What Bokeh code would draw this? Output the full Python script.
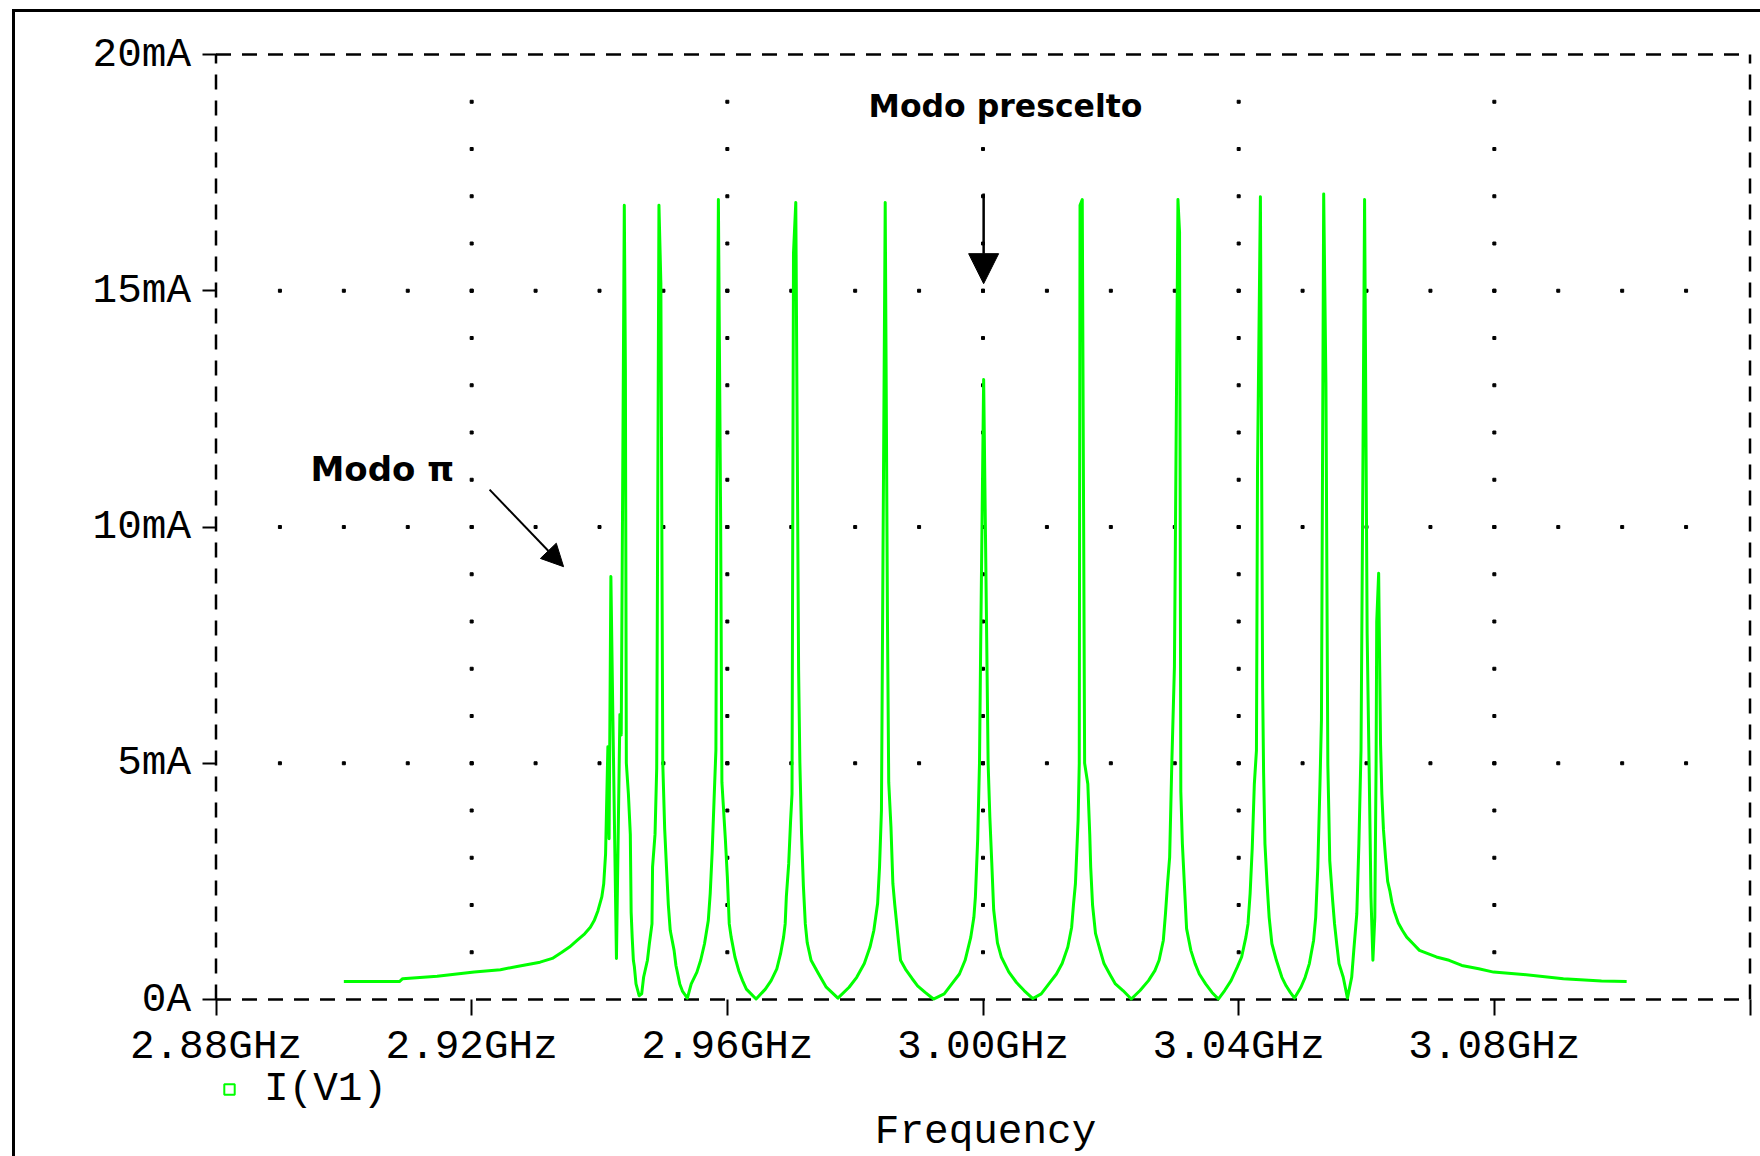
from bokeh.plotting import figure
from bokeh.models import (FixedTicker, Legend, LegendItem, Label, Arrow,
                          NormalHead, Range1d)
from bokeh.embed import file_html
from bokeh.resources import INLINE
from bokeh.core.properties import value

# ---------------- data ----------------
series_name = "I(V1)"

# frequency in GHz
freq_ghz = [
    # left tail
    2.90000, 2.90870, 2.90920, 2.91460, 2.92040, 2.92450, 2.92710, 2.93070,
    2.93262, 2.93411, 2.93530, 2.93649, 2.93768, 2.93857, 2.93917, 2.93976,
    2.94036, 2.94066, 2.94095,
    # pi-mode cluster
    2.94131, 2.94150, 2.94178, 2.94210, 2.94265, 2.94319, 2.94340,
    # peak 2 and valley
    2.94388, 2.94405, 2.94420, 2.94452, 2.94482, 2.94495, 2.94512, 2.94530,
    2.94545, 2.94571, 2.94620, 2.94660, 2.94690, 2.94750, 2.94780, 2.94821,
    2.94830, 2.94869, 2.94895,
    # peak 3 and valley
    2.94930, 2.94960, 2.94990, 2.95020, 2.95048, 2.95077, 2.95107, 2.95167,
    2.95196, 2.95256, 2.95300, 2.95375, 2.95435, 2.95524, 2.95583, 2.95643,
    2.95702, 2.95732, 2.95762, 2.95792, 2.95821,
    # peak 4 and valley
    2.95835, 2.95860, 2.95895, 2.95915, 2.95970, 2.96000, 2.96030, 2.96060,
    2.96119, 2.96179, 2.96238, 2.96298, 2.96450, 2.96595, 2.96685, 2.96774,
    2.96833, 2.96880, 2.96905, 2.96923, 2.96960, 2.96990, 2.97012,
    # peak 5 and valley
    2.97035, 2.97071, 2.97115, 2.97135, 2.97161, 2.97190, 2.97220, 2.97250,
    2.97310, 2.97429, 2.97548, 2.97730, 2.97905, 2.98024, 2.98143, 2.98232,
    2.98292, 2.98351, 2.98381, 2.98411,
    # peak 6 and valley
    2.98435, 2.98470, 2.98505, 2.98525, 2.98560, 2.98590, 2.98620, 2.98650,
    2.98680, 2.98710, 2.98797, 2.98887, 2.98976, 2.99095, 2.99225, 2.99393,
    2.99512, 2.99631, 2.99720, 2.99809, 2.99857, 2.99881, 2.99917, 2.99945,
    # peak 7 (chosen mode) and valley
    2.99965, 3.00010, 3.00058, 3.00080, 3.00107, 3.00137, 3.00167, 3.00226,
    3.00286, 3.00405, 3.00524, 3.00643, 3.00780, 3.00911, 3.01030, 3.01149,
    3.01238, 3.01327, 3.01387, 3.01417, 3.01446, 3.01488, 3.01506,
    # peak 8 and valley
    3.01518, 3.01553, 3.01590, 3.01640, 3.01670, 3.01685, 3.01714, 3.01760,
    3.01833, 3.01893, 3.01982, 3.02071, 3.02190, 3.02320, 3.02457, 3.02589,
    3.02689, 3.02755, 3.02821, 3.02854, 3.02887, 3.02920, 3.02954,
    # peak 9 and valley
    3.02995, 3.03050, 3.03075, 3.03095, 3.03119, 3.03152, 3.03185, 3.03252,
    3.03318, 3.03384, 3.03483, 3.03583, 3.03682, 3.03781, 3.03881, 3.03980,
    3.04046, 3.04113, 3.04146, 3.04179, 3.04212, 3.04245, 3.04278,
    # peak 10 and valley
    3.04295, 3.04340, 3.04375, 3.04390, 3.04411, 3.04444, 3.04477, 3.04520,
    3.04590, 3.04676, 3.04742, 3.04808, 3.04874, 3.04974, 3.05040, 3.05106,
    3.05172, 3.05205, 3.05238, 3.05272,
    # peak 11 and valley
    3.05295, 3.05330, 3.05365, 3.05395, 3.05410, 3.05425, 3.05470, 3.05500,
    3.05536, 3.05570, 3.05636, 3.05702, 3.05768, 3.05801, 3.05848, 3.05881,
    3.05914,
    # peaks 12, 13
    3.05935, 3.05970, 3.06010, 3.06040, 3.06070, 3.06100, 3.06130, 3.06150,
    3.06160, 3.06190, 3.06220,
    # right tail
    3.06240, 3.06265, 3.06298, 3.06331, 3.06365, 3.06398, 3.06431, 3.06497,
    3.06563, 3.06629, 3.06729, 3.06828, 3.06960, 3.07093, 3.07292, 3.07491,
    3.07756, 3.07988, 3.08451, 3.09080, 3.09676, 3.10070,
]

# current in mA
current_ma = [
    0.38, 0.38, 0.44, 0.49, 0.58, 0.63, 0.70, 0.79,
    0.87, 1.00, 1.11, 1.25, 1.39, 1.53, 1.67, 1.88,
    2.17, 2.45, 3.08,
    5.35, 3.40, 8.95, 5.90, 0.87, 6.03, 5.60,
    16.81, 13.30, 5.00, 4.35, 3.50, 1.85, 1.30, 0.83,
    0.70, 0.33, 0.08, 0.12, 0.47, 0.83, 1.18, 1.60,
    2.80, 3.50, 4.90,
    16.81, 15.16, 5.00, 3.60, 2.80, 2.00, 1.46, 1.04,
    0.72, 0.33, 0.17, 0.03, 0.33, 0.58, 0.83, 1.18,
    1.67, 2.24, 3.10, 4.21, 5.27,
    10.41, 16.93, 10.22, 4.60, 3.37, 2.60, 1.60, 1.32,
    0.90, 0.61, 0.40, 0.22, 0.01, 0.22, 0.40, 0.65,
    0.97, 1.32, 1.60, 2.17, 2.87, 3.79, 4.35,
    15.79, 16.87, 6.98, 5.00, 3.51, 2.40, 1.60, 1.20,
    0.83, 0.54, 0.26, 0.03, 0.26, 0.47, 0.76, 1.11,
    1.46, 2.03, 2.80, 4.00,
    9.33, 16.87, 8.06, 4.60, 3.65, 2.45, 2.00, 1.60,
    1.20, 0.83, 0.62, 0.45, 0.29, 0.15, 0.01, 0.12,
    0.33, 0.54, 0.83, 1.32, 1.74, 2.17, 3.40, 5.00,
    7.68, 13.12, 7.61, 5.00, 3.86, 2.90, 1.90, 1.20,
    0.90, 0.58, 0.36, 0.19, 0.02, 0.12, 0.33, 0.54,
    0.76, 1.11, 1.53, 2.03, 2.45, 3.80, 5.00,
    16.81, 16.93, 5.00, 4.56, 3.50, 2.80, 2.00, 1.40,
    1.04, 0.76, 0.54, 0.33, 0.19, 0.01, 0.19, 0.40,
    0.61, 0.83, 1.25, 1.80, 2.45, 3.01, 5.00,
    7.05, 16.93, 16.24, 4.40, 3.30, 2.40, 1.50, 1.04,
    0.76, 0.54, 0.33, 0.15, 0.01, 0.19, 0.40, 0.69,
    0.90, 1.32, 1.60, 2.24, 3.20, 4.56, 5.27,
    11.23, 16.99, 6.60, 4.80, 3.30, 2.45, 1.74, 1.18,
    0.83, 0.47, 0.29, 0.15, 0.03, 0.26, 0.47, 0.76,
    1.25, 1.74, 2.80, 4.56,
    5.91, 17.05, 13.06, 4.97, 4.00, 2.94, 2.10, 1.60,
    1.15, 0.76, 0.47, 0.03, 0.47, 1.04, 1.81, 3.30,
    5.27,
    9.40, 16.93, 7.75, 5.00, 2.17, 0.83, 1.74, 5.00,
    8.00, 9.02, 5.39,
    4.35, 3.60, 3.00, 2.50, 2.30, 2.05, 1.88, 1.62,
    1.46, 1.32, 1.18, 1.04, 0.97, 0.90, 0.83, 0.72,
    0.65, 0.58, 0.53, 0.44, 0.39, 0.38,
]

x_ticks = [2.88, 2.92, 2.96, 3.00, 3.04, 3.08, 3.12]
x_tick_labels = ["2.88GHz", "2.92GHz", "2.96GHz", "3.00GHz", "3.04GHz", "3.08GHz", ""]
y_ticks = [0, 5, 10, 15, 20]
y_tick_labels = ["0A", "5mA", "10mA", "15mA", "20mA"]
x_dot_step = 0.01   # GHz between grid dots on horizontal grid lines
y_dot_step = 1      # mA between grid dots on vertical grid lines

annot_main = "Modo prescelto"
annot_pi = "Modo \u03c0"
x_title = "Frequency"

# ---------------- layout constants ----------------
W, H = 1760, 1156
PLOT_LEFT_PX, PLOT_BOTTOM_PX = 215.5, 999.0     # where 2.88 GHz / 0 A sit
PX_PER_GHZ, PX_PER_MA = 6391.7, 47.25
x_start = x_ticks[0] - PLOT_LEFT_PX / PX_PER_GHZ
x_end = x_start + W / PX_PER_GHZ
y_start = y_ticks[0] - (H - PLOT_BOTTOM_PX) / PX_PER_MA
y_end = y_start + H / PX_PER_MA

MONO = "Liberation Mono"
BOLD_SANS = "DejaVu Sans"

p = figure(width=W, height=H,
           x_range=Range1d(x_start, x_end), y_range=Range1d(y_start, y_end),
           output_backend="svg", toolbar_location=None,
           min_border_left=0, min_border_right=0,
           min_border_top=0, min_border_bottom=0)
p.background_fill_color = None
p.border_fill_color = None
p.outline_line_color = None
# outer picture frame: only its left and top edges fall inside the picture
p.styles = {
    "background": ("linear-gradient(#000, #000) 12px 9px / 3px calc(100% - 9px) no-repeat, "
                   "linear-gradient(#000, #000) 12px 9px / calc(100% - 12px) 3px no-repeat, "
                   "#ffffff"),
}
p.xgrid.grid_line_color = None
p.ygrid.grid_line_color = None

for ax in (p.xaxis, p.yaxis):
    ax.axis_line_color = None
    ax.minor_tick_line_color = None
    ax.major_tick_in = 0
    ax.major_tick_line_color = "black"
    ax.major_tick_line_width = 2
    ax.major_label_text_font = MONO
    ax.major_label_text_font_size = "41px"
    ax.major_label_text_color = "black"

p.xaxis.fixed_location = y_ticks[0]
p.xaxis.ticker = FixedTicker(ticks=x_ticks)
p.xaxis.major_label_overrides = dict(zip(x_ticks, x_tick_labels))
p.xaxis.major_tick_out = 16
p.xaxis.major_label_standoff = 8

p.yaxis.fixed_location = x_ticks[0]
p.yaxis.ticker = FixedTicker(ticks=y_ticks)
p.yaxis.major_label_overrides = dict(zip(y_ticks, y_tick_labels))
p.yaxis.major_tick_out = 14
p.yaxis.major_label_standoff = 11

# dashed plot border
x0, x1, y0, y1 = x_ticks[0], x_ticks[-1], y_ticks[0], y_ticks[-1]
p.multi_line(xs=[[x0, x1], [x0, x1], [x0, x0], [x1, x1]],
             ys=[[y0, y0], [y1, y1], [y0, y1], [y0, y1]],
             line_color="black", line_width=2.5, line_dash="15 11")

# dotted grid made of small dots
gx, gy = [], []
for xt in x_ticks[1:-1]:
    n = int(round((y_ticks[-1] - y_ticks[0]) / y_dot_step))
    for k in range(1, n):
        gx.append(xt)
        gy.append(y_ticks[0] + k * y_dot_step)
for yt in y_ticks[1:-1]:
    n = int(round((x_ticks[-1] - x_ticks[0]) / x_dot_step))
    for k in range(1, n):
        gx.append(round(x_ticks[0] + k * x_dot_step, 4))
        gy.append(yt)
p.scatter(gx, gy, marker="square", size=3, color="black")

# the spectrum
p.line(freq_ghz, current_ma, line_color="#00ff00", line_width=3,
       line_join="round")

# legend symbol: a hollow green square (zero-size on the curve itself)
sym_r = p.scatter(freq_ghz, current_ma, marker="square", size=0,
                  fill_color=None, line_color="#00ff00", line_width=2)
legend = Legend(items=[LegendItem(label=value(series_name), renderers=[sym_r])],
                location=(216, 44), orientation="vertical")
legend.label_text_font = MONO
legend.label_text_font_size = "41px"
legend.label_text_color = "black"
legend.glyph_width = 26
legend.glyph_height = 26
legend.label_height = 26
legend.label_standoff = 22
legend.padding = 0
legend.spacing = 0
legend.margin = 0
legend.border_line_color = None
legend.background_fill_alpha = 0
p.add_layout(legend)

# x axis title
p.add_layout(Label(x=3.0004, y=-2.80, text=x_title, text_align="center",
                   text_baseline="middle", text_font=MONO,
                   text_font_size="41px", text_color="black"))

# annotations
p.add_layout(Label(x=3.00352, y=18.92, text=annot_main, text_align="center",
                   text_baseline="middle", text_font=BOLD_SANS,
                   text_font_style="bold", text_font_size="31.5px",
                   text_color="black"))
p.add_layout(Label(x=2.89478, y=11.22, text=annot_pi, text_align="left",
                   text_baseline="middle", text_font=BOLD_SANS,
                   text_font_style="bold", text_font_size="34px",
                   text_color="black"))

p.add_layout(Arrow(end=NormalHead(size=30, fill_color="black", line_color="black"),
                   x_start=3.0001, y_start=17.06, x_end=3.0001, y_end=15.15,
                   line_color="black", line_width=2.5))
p.add_layout(Arrow(end=NormalHead(size=22, fill_color="black", line_color="black"),
                   x_start=2.9228, y_start=10.79, x_end=2.93438, y_end=9.16,
                   line_color="black", line_width=2))

open("out.html", "w").write(file_html(p, INLINE))
